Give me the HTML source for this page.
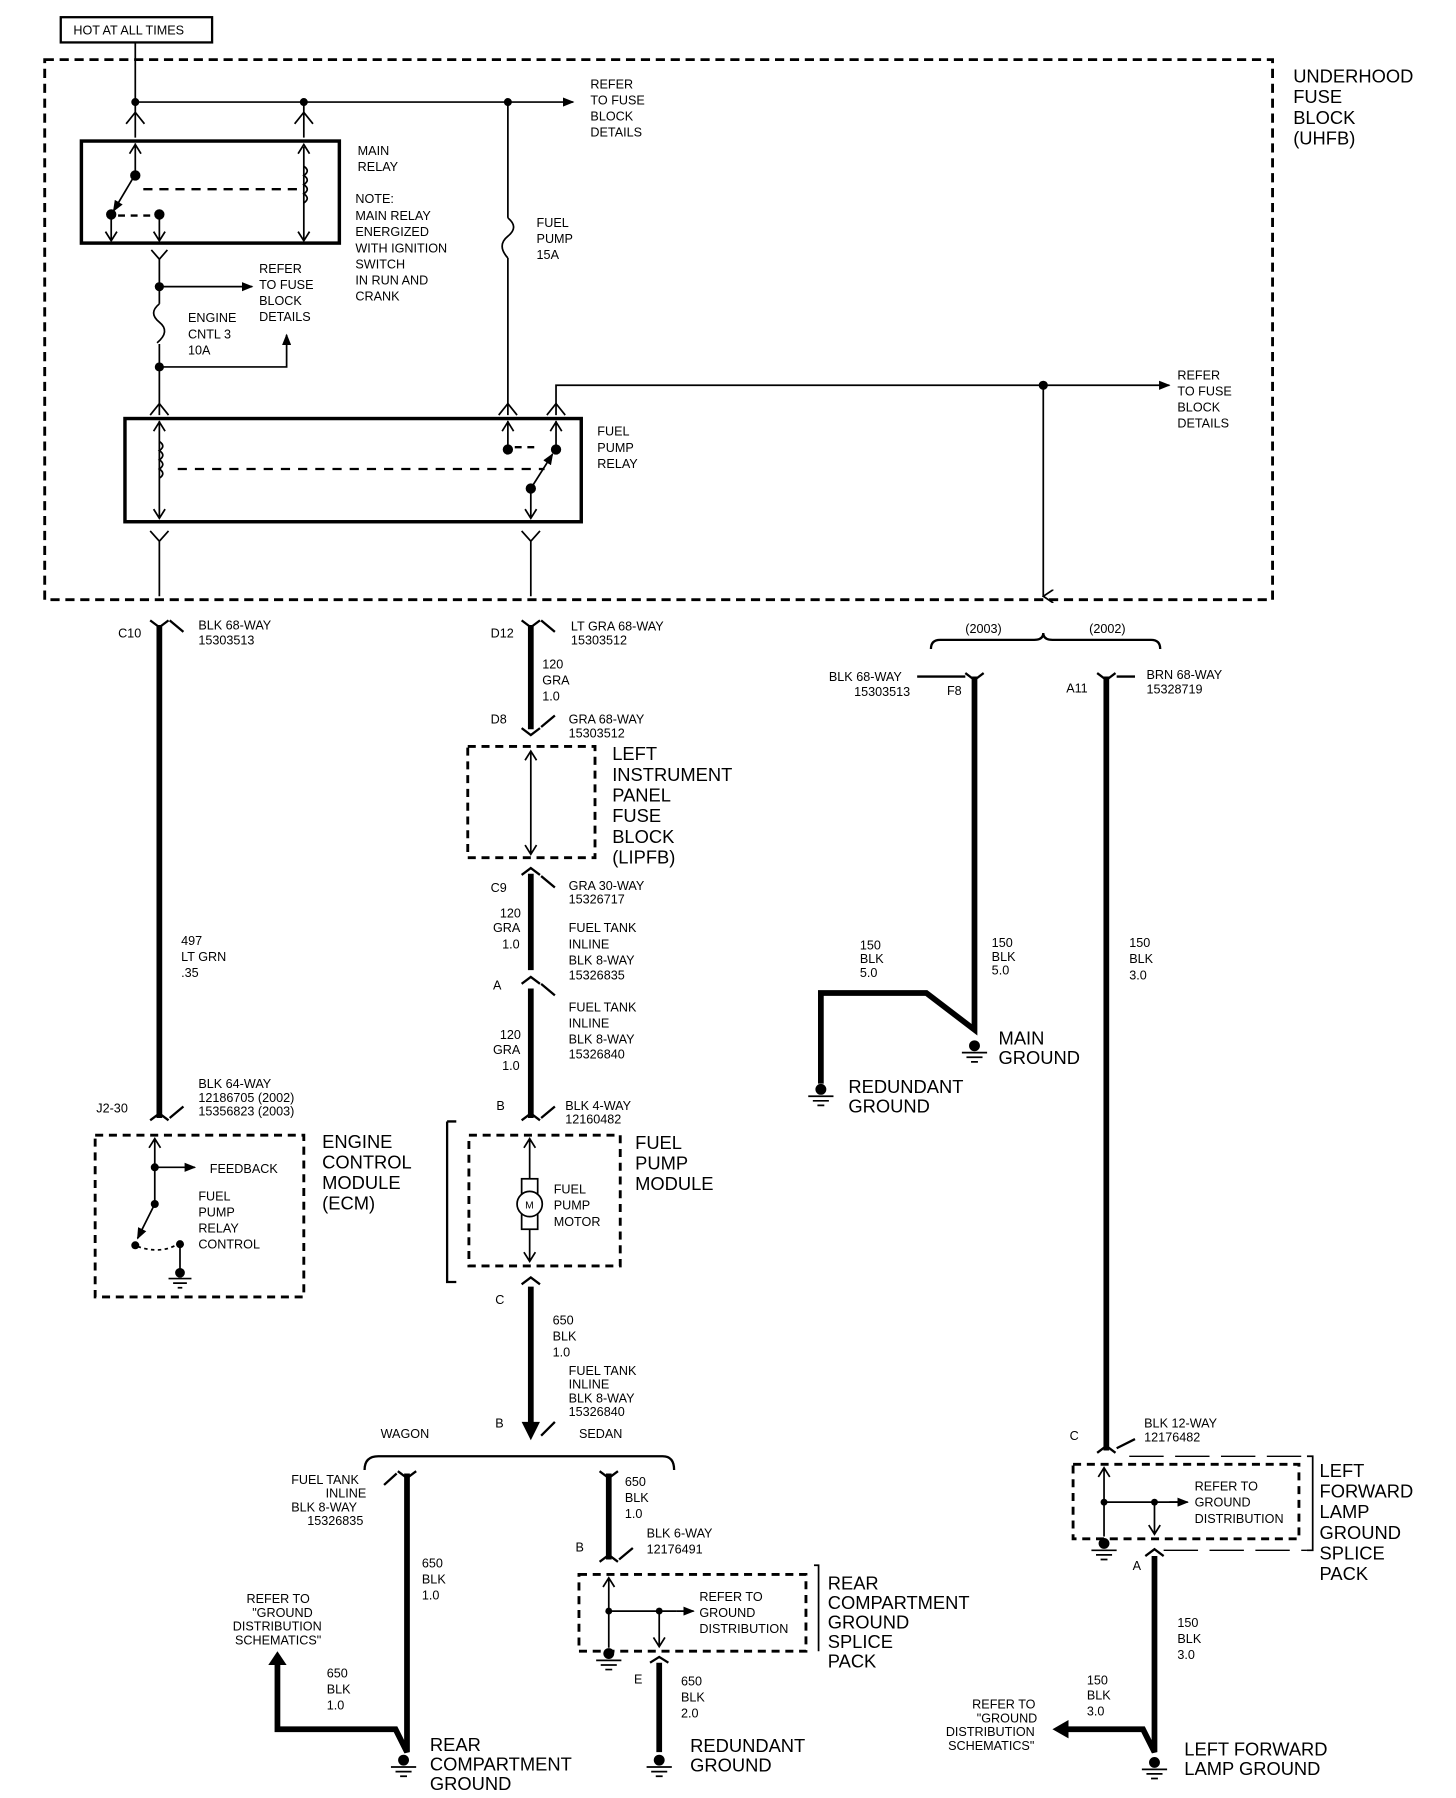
<!DOCTYPE html>
<html><head><meta charset="utf-8"><style>
html,body{margin:0;padding:0;background:#fff}
svg{display:block}
text{font-family:"Liberation Sans",Arial,sans-serif;fill:#000}
.s{font-size:11px}
.b{font-size:16px}
</style></head><body>
<svg width="1456" height="1798" viewBox="0 0 1270 1568" preserveAspectRatio="none" xmlns="http://www.w3.org/2000/svg">
<defs>
<marker id="ar" markerWidth="10" markerHeight="8" refX="9" refY="4" orient="auto" markerUnits="userSpaceOnUse"><path d="M0,0 L10,4 L0,8 Z" fill="#000"/></marker>
<marker id="va" markerWidth="12" markerHeight="10" refX="6" refY="9" orient="auto" markerUnits="userSpaceOnUse"><path d="M0,0 L6,9 L12,0" fill="none" stroke="#000" stroke-width="1.5"/></marker>
</defs>
<g fill="none" stroke="#000" stroke-width="1.5">
<rect x="53" y="15" width="132" height="22" stroke-width="2"/>
<rect x="39" y="52" width="1071" height="471" stroke-dasharray="8,5" stroke-width="2.5"/>
<path d="M118 37 V120"/>
<path d="M118 89 H500" marker-end="url(#ar)"/>
<path d="M265 89 V120"/>
<path d="M110 108 L118 98 L126 108 M257 108 L265 98 L273 108"/>
<rect x="71" y="123" width="225" height="89" stroke-width="3"/>
<path d="M118 125 V152 M113 134 L118 126 L123 134"/>
<path d="M118 152 L99 184" marker-end="url(#ar)"/>
<path d="M125 165 H262" stroke-dasharray="8,6" stroke-width="2"/>
<path d="M97 186 V210 M139 186 V210 M92 202 L97 210 L102 202 M134 202 L139 210 L144 202"/>
<path d="M103 188 H135" stroke-dasharray="6,5" stroke-width="2"/>
<path d="M265 128 V210 M260 134 L265 126 L270 134 M260 202 L265 210 L270 202"/>
<path d="M265 145 q6 4 0 8 q6 4 0 8 q6 4 0 8 q6 4 0 8" stroke-width="1.5"/>
<path d="M132 218 L139 226 L146 218"/>
<path d="M139 226 V265 M139 300 V362"/>
<path d="M139 265 q-10 8 0 16 q10 8 -2 18" />
<path d="M139 250 H220" marker-end="url(#ar)"/>
<path d="M139 320 H250 V292" marker-end="url(#ar)"/>
<path d="M131 362 L139 352 L147 362"/>
<path d="M443 89 V190 M443 225 V362"/>
<path d="M443 190 q10 8 0 16 q-10 8 0 19"/>
<path d="M435 362 L443 352 L451 362 M477 362 L485 352 L493 362"/>
<path d="M485 362 V336 H1020" marker-end="url(#ar)"/>
<path d="M910 336 V520" marker-end="url(#va)"/>
<rect x="109" y="365" width="398" height="90" stroke-width="3"/>
<path d="M139 367 V452 M134 376 L139 368 L144 376 M134 444 L139 452 L144 444"/>
<path d="M139 385 q6 4 0 8 q6 4 0 8 q6 4 0 8 q6 4 0 8"/>
<path d="M155 409 H475" stroke-dasharray="8,7" stroke-width="2"/>
<path d="M443 367 V392 M438 376 L443 368 L448 376 M485 367 V392 M480 376 L485 368 L490 376"/>
<path d="M449 390 H470" stroke-dasharray="6,5" stroke-width="2"/>
<path d="M463 426 L482 396" marker-end="url(#ar)"/>
<path d="M463 426 V452 M458 444 L463 452 L468 444"/>
<path d="M131 463 L139 472 L147 463 M139 472 V520 M455 463 L463 472 L471 463 M463 472 V520"/>
</g>
<g fill="#000">
<circle cx="118" cy="89" r="3.5"/><circle cx="265" cy="89" r="3.5"/><circle cx="443" cy="89" r="3.5"/>
<circle cx="118" cy="153" r="4.5"/><circle cx="97" cy="187" r="4.5"/><circle cx="139" cy="187" r="4.5"/>
<circle cx="139" cy="250" r="4"/><circle cx="139" cy="320" r="4"/><circle cx="910" cy="336" r="4"/>
<circle cx="443" cy="392" r="4.5"/><circle cx="485" cy="392" r="4.5"/><circle cx="463" cy="426" r="4.5"/>
</g>
<text class="s" x="64" y="30">HOT AT ALL TIMES</text>
<g class="s">
<text x="515" y="77">REFER</text><text x="515" y="91">TO FUSE</text><text x="515" y="105">BLOCK</text><text x="515" y="119">DETAILS</text>
<text x="312" y="135">MAIN</text><text x="312" y="149">RELAY</text>
<text x="310" y="177">NOTE:</text><text x="310" y="192">MAIN RELAY</text><text x="310" y="206">ENERGIZED</text><text x="310" y="220">WITH IGNITION</text><text x="310" y="234">SWITCH</text><text x="310" y="248">IN RUN AND</text><text x="310" y="262">CRANK</text>
<text x="468" y="198">FUEL</text><text x="468" y="212">PUMP</text><text x="468" y="226">15A</text>
<text x="226" y="238">REFER</text><text x="226" y="252">TO FUSE</text><text x="226" y="266">BLOCK</text><text x="226" y="280">DETAILS</text>
<text x="164" y="281">ENGINE</text><text x="164" y="295">CNTL 3</text><text x="164" y="309">10A</text>
<text x="521" y="380">FUEL</text><text x="521" y="394">PUMP</text><text x="521" y="408">RELAY</text>
<text x="1027" y="331">REFER</text><text x="1027" y="345">TO FUSE</text><text x="1027" y="359">BLOCK</text><text x="1027" y="373">DETAILS</text>
</g>
<g class="b"><text x="1128" y="72">UNDERHOOD</text><text x="1128" y="90">FUSE</text><text x="1128" y="108">BLOCK</text><text x="1128" y="126">(UHFB)</text></g>

<g fill="none" stroke="#000" stroke-width="5">
<path d="M139 545 V975"/>
<path d="M463 545 V636 M463 762 V846 M463 862 V975 M463 1122 V1250 M355 1285 V1528 L345 1508 H242 V1450 M531 1285 V1360 M575 1450 V1528 M850 590 V898 L808 866 H716 V945 M965 590 V1265 M1007 1357 V1528 L997 1508 H930"/>
</g>
<g fill="#000">
<path d="M455 1240 L463 1256 L471 1240 Z"/>
<path d="M234 1452 L242 1440 L250 1452 Z"/>
<path d="M932 1500 L918 1508 L932 1516 Z"/>
</g>
<g fill="none" stroke="#000" stroke-width="2">
<path d="M131 541 L139 547 L147 541 M455 541 L463 547 L471 541 M455 763 L463 757 L471 763 M455 858 L463 852 L471 858 M455 977 L463 971 L471 977 M131 977 L139 971 L147 977 M455 1120 L463 1114 L471 1120 M455 635 L463 641 L471 635 M347 1283 L355 1289 L363 1283 M523 1283 L531 1289 L539 1283 M523 1362 L531 1356 L539 1362 M567 1450 L575 1445 L583 1450 M842 587 L850 593 L858 587 M957 587 L965 593 L973 587 M957 1267 L965 1261 L973 1267 M999 1357 L1007 1351 L1015 1357"/>
<path d="M148 541 L160 551 M472 541 L484 551 M472 634 L484 624 M472 764 L484 774 M472 858 L484 868 M148 975 L160 965 M472 975 L484 965 M472 1252 L484 1240 M346 1285 L335 1295 M540 1360 L552 1350 M842 590 L800 590 M974 590 L990 590 M974 1263 L990 1255"/>
<path d="M318 1282 Q318 1270 330 1270 H578 Q588 1270 588 1282"/>
<path d="M812 566 Q812 558 820 558 H902 Q910 558 910 552 Q910 558 918 558 H1004 Q1012 558 1012 566"/>
<path d="M390 978 H398 M390 978 V1118 H398"/>
<path d="M1140 1270 H1145 V1352 H1140" stroke-width="1.5"/>
<path d="M985 1270 H1140 M1015 1352 H1140" stroke-width="1.2" stroke-dasharray="30,10"/>
<path d="M710 1365 H714 V1440" stroke-width="1.5"/>
</g>
<g fill="none" stroke="#000" stroke-width="2.5" stroke-dasharray="7,5">
<rect x="408" y="651" width="111" height="97"/>
<rect x="83" y="990" width="182" height="141"/>
<rect x="409" y="990" width="132" height="114"/>
<rect x="505" y="1373" width="198" height="67"/>
<rect x="936" y="1277" width="197" height="65"/>
</g>
<g fill="none" stroke="#000" stroke-width="1.5">
<path d="M463 655 V745 M458 663 L463 655 L468 663 M458 737 L463 745 L468 737"/>
<path d="M462 993 V1100 M457 1001 L462 993 L467 1001 M457 1092 L462 1100 L467 1092"/>
<rect x="455" y="1028" width="14" height="44" fill="#fff"/>
<circle cx="462" cy="1050" r="11" fill="#fff"/>
<path d="M135 993 V1050 M130 1001 L135 993 L140 1001"/>
<path d="M135 1018 H170" marker-end="url(#ar)"/>
<path d="M135 1050 L120 1080" marker-end="url(#ar)"/>
<path d="M120 1087 Q140 1094 155 1085" stroke-dasharray="3,3"/>
<path d="M157 1085 V1108"/>
<path d="M531 1376 V1437 M526 1384 L531 1376 L536 1384 M531 1405 H590" />
<path d="M575 1405 V1436 M570 1428 L575 1436 L580 1428"/>
<path d="M590 1405 H605" marker-end="url(#ar)"/>
<path d="M963 1280 V1340 M958 1288 L963 1280 L968 1288 M963 1310 H1030"/>
<path d="M1007 1310 V1338 M1002 1330 L1007 1338 L1012 1330"/>
<path d="M1020 1310 H1036" marker-end="url(#ar)"/>
</g>
<g fill="#000">
<circle cx="135" cy="1018" r="3.5"/><circle cx="135" cy="1050" r="3.5"/><circle cx="118" cy="1086" r="3.5"/><circle cx="157" cy="1085" r="3.5"/><circle cx="531" cy="1405" r="3"/><circle cx="575" cy="1405" r="3"/><circle cx="963" cy="1310" r="3"/><circle cx="1007" cy="1310" r="3"/>
</g>
<g stroke="#000" stroke-width="1.5" fill="#000">
<g transform="translate(157,1110)"><circle r="3.5"/><path d="M-10 5 H10 M-6 9 H6 M-2 13 H2"/></g>
<g transform="translate(850,912)"><circle r="4"/><path d="M-11 6 H11 M-7 10 H7 M-3 14 H3"/></g>
<g transform="translate(716,950)"><circle r="4"/><path d="M-11 6 H11 M-7 10 H7 M-3 14 H3"/></g>
<g transform="translate(531,1442)"><circle r="4"/><path d="M-11 6 H11 M-7 10 H7 M-3 14 H3"/></g>
<g transform="translate(963,1346)"><circle r="4"/><path d="M-11 6 H11 M-7 10 H7 M-3 14 H3"/></g>
<g transform="translate(352,1535)"><circle r="4"/><path d="M-11 6 H11 M-7 10 H7 M-3 14 H3"/></g>
<g transform="translate(575,1535)"><circle r="4"/><path d="M-11 6 H11 M-7 10 H7 M-3 14 H3"/></g>
<g transform="translate(1007,1537)"><circle r="4"/><path d="M-11 6 H11 M-7 10 H7 M-3 14 H3"/></g>
</g>
<g class="s">
<text x="103" y="556">C10</text><text x="173" y="549">BLK 68-WAY</text><text x="173" y="562">15303513</text>
<text x="158" y="824">497</text><text x="158" y="838">LT GRN</text><text x="158" y="852">.35</text>
<text x="84" y="970">J2-30</text><text x="173" y="949">BLK 64-WAY</text><text x="173" y="961">12186705 (2002)</text><text x="173" y="973">15356823 (2003)</text>
<text x="183" y="1023">FEEDBACK</text><text x="173" y="1047">FUEL</text><text x="173" y="1061">PUMP</text><text x="173" y="1075">RELAY</text><text x="173" y="1089">CONTROL</text>
<text x="428" y="556">D12</text><text x="498" y="550">LT GRA 68-WAY</text><text x="498" y="562">15303512</text>
<text x="473" y="583">120</text><text x="473" y="597">GRA</text><text x="473" y="611">1.0</text>
<text x="428" y="631">D8</text><text x="496" y="631">GRA 68-WAY</text><text x="496" y="643">15303512</text>
<text x="428" y="778">C9</text><text x="496" y="776">GRA 30-WAY</text><text x="496" y="788">15326717</text>
<text x="436" y="800">120</text><text x="430" y="813">GRA</text><text x="438" y="827">1.0</text>
<text x="496" y="813">FUEL TANK</text><text x="496" y="827">INLINE</text><text x="496" y="841">BLK 8-WAY</text><text x="496" y="854">15326835</text>
<text x="430" y="863">A</text>
<text x="496" y="882">FUEL TANK</text><text x="496" y="896">INLINE</text><text x="496" y="910">BLK 8-WAY</text><text x="496" y="923">15326840</text>
<text x="436" y="906">120</text><text x="430" y="919">GRA</text><text x="438" y="933">1.0</text>
<text x="433" y="968">B</text><text x="493" y="968">BLK 4-WAY</text><text x="493" y="980">12160482</text>
<text x="483" y="1041">FUEL</text><text x="483" y="1055">PUMP</text><text x="483" y="1069">MOTOR</text>
<text x="458" y="1054" font-size="9">M</text>
<text x="432" y="1137">C</text>
<text x="482" y="1155">650</text><text x="482" y="1169">BLK</text><text x="482" y="1183">1.0</text>
<text x="496" y="1199">FUEL TANK</text><text x="496" y="1211">INLINE</text><text x="496" y="1223">BLK 8-WAY</text><text x="496" y="1235">15326840</text>
<text x="432" y="1245">B</text><text x="332" y="1254">WAGON</text><text x="505" y="1254">SEDAN</text>
<text x="254" y="1294">FUEL TANK</text><text x="284" y="1306">INLINE</text><text x="254" y="1318">BLK 8-WAY</text><text x="268" y="1330">15326835</text>
<text x="545" y="1296">650</text><text x="545" y="1310">BLK</text><text x="545" y="1324">1.0</text>
<text x="564" y="1341">BLK 6-WAY</text><text x="564" y="1355">12176491</text><text x="502" y="1353">B</text>
<text x="368" y="1367">650</text><text x="368" y="1381">BLK</text><text x="368" y="1395">1.0</text>
<text x="215" y="1398">REFER TO</text><text x="220" y="1410">"GROUND</text><text x="203" y="1422">DISTRIBUTION</text><text x="205" y="1434">SCHEMATICS"</text>
<text x="610" y="1396">REFER TO</text><text x="610" y="1410">GROUND</text><text x="610" y="1424">DISTRIBUTION</text>
<text x="285" y="1463">650</text><text x="285" y="1477">BLK</text><text x="285" y="1491">1.0</text>
<text x="553" y="1468">E</text><text x="594" y="1470">650</text><text x="594" y="1484">BLK</text><text x="594" y="1498">2.0</text>
<text x="842" y="552">(2003)</text><text x="950" y="552">(2002)</text>
<text x="723" y="594">BLK 68-WAY</text><text x="745" y="607">15303513</text><text x="826" y="606">F8</text>
<text x="930" y="604">A11</text><text x="1000" y="592">BRN 68-WAY</text><text x="1000" y="605">15328719</text>
<text x="750" y="828">150</text><text x="750" y="840">BLK</text><text x="750" y="852">5.0</text>
<text x="865" y="826">150</text><text x="865" y="838">BLK</text><text x="865" y="850">5.0</text>
<text x="985" y="826">150</text><text x="985" y="840">BLK</text><text x="985" y="854">3.0</text>
<text x="933" y="1256">C</text><text x="998" y="1245">BLK 12-WAY</text><text x="998" y="1257">12176482</text>
<text x="1042" y="1300">REFER TO</text><text x="1042" y="1314">GROUND</text><text x="1042" y="1328">DISTRIBUTION</text>
<text x="988" y="1369">A</text>
<text x="1027" y="1419">150</text><text x="1027" y="1433">BLK</text><text x="1027" y="1447">3.0</text>
<text x="948" y="1469">150</text><text x="948" y="1482">BLK</text><text x="948" y="1496">3.0</text>
<text x="848" y="1490">REFER TO</text><text x="852" y="1502">"GROUND</text><text x="825" y="1514">DISTRIBUTION</text><text x="827" y="1526">SCHEMATICS"</text>
</g>
<g class="b">
<text x="534" y="663">LEFT</text><text x="534" y="681">INSTRUMENT</text><text x="534" y="699">PANEL</text><text x="534" y="717">FUSE</text><text x="534" y="735">BLOCK</text><text x="534" y="753">(LIPFB)</text>
<text x="281" y="1001">ENGINE</text><text x="281" y="1019">CONTROL</text><text x="281" y="1037">MODULE</text><text x="281" y="1055">(ECM)</text>
<text x="554" y="1002">FUEL</text><text x="554" y="1020">PUMP</text><text x="554" y="1038">MODULE</text>
<text x="871" y="911">MAIN</text><text x="871" y="928">GROUND</text>
<text x="740" y="953">REDUNDANT</text><text x="740" y="970">GROUND</text>
<text x="1151" y="1288">LEFT</text><text x="1151" y="1306">FORWARD</text><text x="1151" y="1324">LAMP</text><text x="1151" y="1342">GROUND</text><text x="1151" y="1360">SPLICE</text><text x="1151" y="1378">PACK</text>
<text x="722" y="1386">REAR</text><text x="722" y="1403">COMPARTMENT</text><text x="722" y="1420">GROUND</text><text x="722" y="1437">SPLICE</text><text x="722" y="1454">PACK</text>
<text x="375" y="1527">REAR</text><text x="375" y="1544">COMPARTMENT</text><text x="375" y="1561">GROUND</text>
<text x="602" y="1528">REDUNDANT</text><text x="602" y="1545">GROUND</text>
<text x="1033" y="1531">LEFT FORWARD</text><text x="1033" y="1548">LAMP GROUND</text>
</g>
</svg>
</body></html>
